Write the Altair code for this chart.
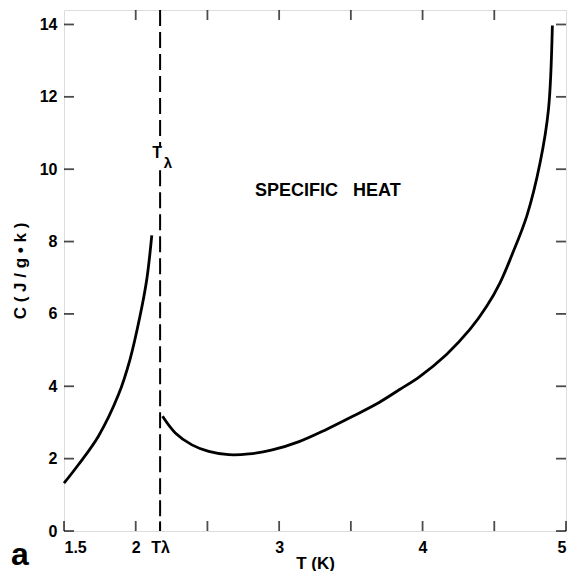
import altair as alt
import pandas as pd

# --- data ---
below_T = [1.50, 1.60, 1.74, 1.88, 1.96, 2.03, 2.077, 2.112]
below_C = [1.32, 1.83, 2.62, 3.77, 4.74, 5.94, 6.95, 8.17]

above_T = [2.187, 2.276, 2.392, 2.509, 2.649, 2.789, 2.952, 3.139, 3.326, 3.513,
           3.70, 3.84, 3.98, 4.167, 4.33, 4.447, 4.54, 4.62, 4.727, 4.82, 4.878, 4.905]
above_C = [3.17, 2.71, 2.38, 2.20, 2.11, 2.13, 2.24, 2.47, 2.80, 3.17,
           3.56, 3.91, 4.27, 4.88, 5.57, 6.21, 6.86, 7.60, 8.71, 10.19, 11.66, 13.97]

T_lambda = 2.17
lambda_gap = [10.6, 9.97]          # where the dashed line is interrupted by the label
x_domain = [1.5, 5.0]
y_domain = [0, 14.4]

x_label_values = [1.5, 2, T_lambda, 3, 4, 5]
x_tick_values = [1.5, 2, T_lambda, 2.5, 3, 3.5, 4, 4.5, 5]
x_top_tick_values = [2, 2.5, 3, 3.5, 4, 4.5]
y_tick_values = [0, 2, 4, 6, 8, 10, 12, 14]

ann_text = ["T", "λ", "SPECIFIC\u00a0\u00a0\u00a0HEAT"]
ann_x = [2.15, 2.225, 3.34]
ann_y = [10.45, 10.17, 9.40]
ann_size = [16, 15, 18]

W, H = 502, 521
FONT = "Liberation Sans"

curves = pd.DataFrame({
    "T": below_T + above_T,
    "C": below_C + above_C,
    "branch": ["below"] * len(below_T) + ["above"] * len(above_T),
})
rule_df = pd.DataFrame({
    "T": [T_lambda, T_lambda],
    "y1": [y_domain[1], lambda_gap[1]],
    "y2": [lambda_gap[0], y_domain[0]],
})
ann_df = pd.DataFrame({"text": ann_text, "x": ann_x, "y": ann_y, "size": ann_size})

xs = alt.Scale(domain=x_domain, nice=False, zero=False)
ys = alt.Scale(domain=y_domain, nice=False, zero=True)

x_axis = alt.Axis(
    values=x_label_values,
    labelExpr=f"datum.value == {T_lambda} ? 'Tλ' : format(datum.value, '~g')",
    ticks=False, tickSize=0, domain=False, grid=False,
    labelFont=FONT, labelFontSize=16, labelFontWeight="bold", labelColor="black",
    labelPadding=8,
    title="T (K)", titleFont=FONT, titleFontSize=17, titleFontWeight="bold",
    titleColor="black", titleY=32, titleBaseline="middle",
)
y_axis = alt.Axis(
    values=y_tick_values,
    ticks=False, tickSize=0, domain=False, grid=False,
    labelFont=FONT, labelFontSize=16, labelFontWeight="bold", labelColor="black",
    labelPadding=7,
    title="C ( J / g • k )", titleFont=FONT, titleFontSize=17, titleFontWeight="bold",
    titleColor="black", titleX=-44, titleY=H / 2, titleAngle=270,
    titleAlign="center", titleBaseline="middle",
)

lines = alt.Chart(curves).mark_line(
    color="black", strokeWidth=2.8, interpolate="catmull-rom"
).encode(
    x=alt.X("T:Q", scale=xs, axis=x_axis),
    y=alt.Y("C:Q", scale=ys, axis=y_axis),
    detail="branch:N",
)

dashed = alt.Chart(rule_df).mark_rule(
    color="black", strokeWidth=2, strokeDash=[16, 6]
).encode(
    x=alt.X("T:Q", scale=xs),
    y=alt.Y("y1:Q", scale=ys),
    y2="y2:Q",
)

tick_len = 10
bottom_ticks = alt.Chart(pd.DataFrame({"v": x_tick_values})).mark_tick(
    color="black", thickness=1.8, size=tick_len, orient="vertical"
).encode(x=alt.X("v:Q", scale=xs), y=alt.value(H - tick_len / 2))
top_ticks = alt.Chart(pd.DataFrame({"v": x_top_tick_values})).mark_tick(
    color="black", thickness=1.8, size=tick_len, orient="vertical"
).encode(x=alt.X("v:Q", scale=xs), y=alt.value(tick_len / 2))
left_ticks = alt.Chart(pd.DataFrame({"v": y_tick_values})).mark_tick(
    color="black", thickness=1.8, size=tick_len, orient="horizontal"
).encode(y=alt.Y("v:Q", scale=ys), x=alt.value(tick_len / 2))
right_ticks = alt.Chart(pd.DataFrame({"v": y_tick_values})).mark_tick(
    color="black", thickness=1.8, size=tick_len, orient="horizontal"
).encode(y=alt.Y("v:Q", scale=ys), x=alt.value(W - tick_len / 2))

labels = alt.Chart(ann_df).mark_text(
    font=FONT, fontWeight="bold", color="black", align="center", baseline="middle"
).encode(
    x=alt.X("x:Q", scale=xs),
    y=alt.Y("y:Q", scale=ys),
    text="text:N",
    size=alt.Size("size:Q", scale=None, legend=None),
)

chart = alt.layer(
    lines, dashed, bottom_ticks, top_ticks, left_ticks, right_ticks, labels
).properties(
    width=W, height=H,
    padding={"left": 56, "top": 2, "right": 2, "bottom": 40},
    autosize=alt.AutoSizeParams(type="none"),
    title=alt.TitleParams(
        "a", orient="bottom", anchor="start", frame="group", baseline="top",
        font=FONT, fontSize=32, fontWeight="bold", color="black",
        dx=-53, dy=-35,
    ),
).configure_view(stroke="black", strokeWidth=2).configure(background="white")

chart.save("out.html", embed_options={"renderer": "svg", "actions": False})
